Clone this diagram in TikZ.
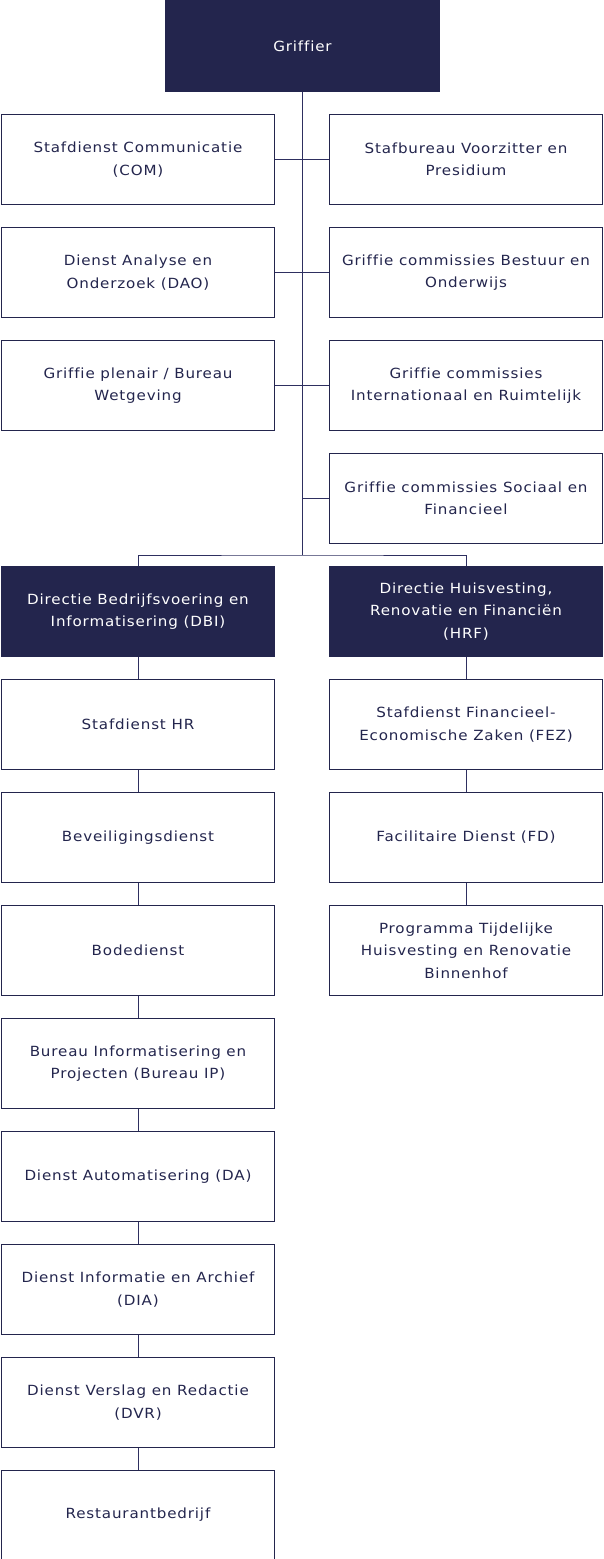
\documentclass[tikz,border=0pt]{standalone}
\usepackage{fontspec}
\setmainfont{DejaVu Sans}[LetterSpace=6,FakeStretch=1.08,Ligatures=NoCommon]
\definecolor{navy}{HTML}{23254D}
\definecolor{linec}{HTML}{2E2F60}
\begin{document}
\begin{tikzpicture}[x=1pt,y=-1pt,
  box/.style={draw=navy, line width=1pt, minimum width=273pt, minimum height=90pt,
    inner sep=0pt, align=center, anchor=north west, text=navy,
    font=\fontsize{14}{22.3}\selectfont},
  dark/.style={box, fill=navy, text=white},
  conn/.style={draw=linec, line width=1pt}]
\useasboundingbox (0,0) rectangle (604,1559);
\node[dark, minimum width=274pt, minimum height=91pt] (g) at (165,0) {Griffier};
% staff rows
\node[box] (l1) at (1,114) {Stafdienst Communicatie\\(COM)};
\node[box] (r1) at (329,114) {Stafbureau Voorzitter en\\Presidium};
\node[box] (l2) at (1,227) {Dienst Analyse en\\Onderzoek (DAO)};
\node[box] (r2) at (329,227) {Griffie commissies Bestuur en\\Onderwijs};
\node[box] (l3) at (1,340) {Griffie plenair / Bureau\\Wetgeving};
\node[box] (r3) at (329,340) {Griffie commissies\\Internationaal en Ruimtelijk};
\node[box] (r4) at (329,453) {Griffie commissies Sociaal en\\Financieel};
% directies
\node[dark] (dbi) at (1,566) {Directie Bedrijfsvoering en\\Informatisering (DBI)};
\node[dark] (hrf) at (329,566) {Directie Huisvesting,\\Renovatie en Financiën\\(HRF)};
% DBI chain
\node[box] (a1) at (1,679) {Stafdienst HR};
\node[box] (a2) at (1,792) {Beveiligingsdienst};
\node[box] (a3) at (1,905) {Bodedienst};
\node[box] (a4) at (1,1018) {Bureau Informatisering en\\Projecten (Bureau IP)};
\node[box] (a5) at (1,1131) {Dienst Automatisering (DA)};
\node[box] (a6) at (1,1244) {Dienst Informatie en Archief\\(DIA)};
\node[box] (a7) at (1,1357) {Dienst Verslag en Redactie\\(DVR)};
\node[box, minimum height=88.5pt] (a8) at (1,1470) {Restaurantbedrijf};
% HRF chain
\node[box] (b1) at (329,679) {Stafdienst Financieel-\\Economische Zaken (FEZ)};
\node[box] (b2) at (329,792) {Facilitaire Dienst (FD)};
\node[box] (b3) at (329,905) {Programma Tijdelijke\\Huisvesting en Renovatie\\Binnenhof};
% connectors
\path (g.south) ++(0,463) coordinate (bus);
\draw[conn] (g.south) -- (bus);
\draw[conn] (l1.east) -- (r1.west);
\draw[conn] (l2.east) -- (r2.west);
\draw[conn] (l3.east) -- (r3.west);
\draw[conn] (g.south |- r4.west) -- (r4.west);
\draw[conn] (dbi.north) |- (bus) -| (hrf.north);
\draw[conn] (dbi) -- (a1);
\draw[conn] (a1) -- (a2);
\draw[conn] (a2) -- (a3);
\draw[conn] (a3) -- (a4);
\draw[conn] (a4) -- (a5);
\draw[conn] (a5) -- (a6);
\draw[conn] (a6) -- (a7);
\draw[conn] (a7) -- (a8);
\draw[conn] (hrf) -- (b1);
\draw[conn] (b1) -- (b2);
\draw[conn] (b2) -- (b3);
\end{tikzpicture}
\end{document}
